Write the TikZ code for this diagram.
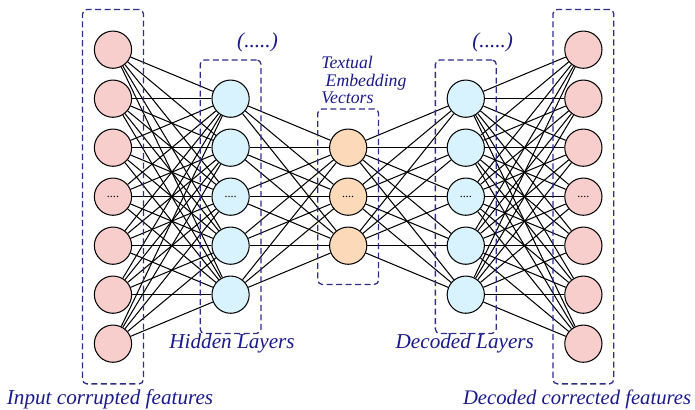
\documentclass[tikz,border=0pt]{standalone}
\usepackage{fontspec}
\setmainfont{Liberation Serif}
\usetikzlibrary{fit}

\definecolor{inpink}{HTML}{F8CECC}
\definecolor{hidblue}{HTML}{D8F3FD}
\definecolor{embpeach}{HTML}{FCD9B8}
\definecolor{boxnavy}{HTML}{2E2E8A}
\definecolor{labelblue}{HTML}{1A1A8C}

\begin{document}
\begin{tikzpicture}[
    neuron/.style={circle,draw=black,line width=0.6pt,minimum size=0.76cm,inner sep=0pt,font=\scriptsize},
    layerbox/.style={draw=boxnavy,line width=0.75pt,dash pattern=on 3.5pt off 2pt,
        rounded corners=2.5pt,inner xsep=0.23cm,inner ysep=0.4cm},
    lbl/.style={text=labelblue,font=\itshape\fontsize{12.3}{13}\selectfont},
    wire/.style={line width=0.6pt}
]
\useasboundingbox (-2.306,4.014) rectangle (11.878,-4.353);

% neurons, the middle one of each layer carries the dots
\foreach \i in {1,...,7}
    \node[neuron,fill=inpink] (in\i) at (0,4-\i) {\ifnum\i=4 ....\fi};
\foreach \i in {1,...,5}
    \node[neuron,fill=hidblue] (hid\i) at (2.4,3-\i) {\ifnum\i=3 ....\fi};
\foreach \i in {1,...,3}
    \node[neuron,fill=embpeach] (emb\i) at (4.8,2-\i) {\ifnum\i=2 ....\fi};
\foreach \i in {1,...,5}
    \node[neuron,fill=hidblue] (dec\i) at (7.2,3-\i) {\ifnum\i=3 ....\fi};
\foreach \i in {1,...,7}
    \node[neuron,fill=inpink] (out\i) at (9.6,4-\i) {\ifnum\i=4 ....\fi};

% fully connected wiring
\foreach \a in {1,...,7}
    \foreach \b in {1,...,5}
        \draw[wire] (in\a) -- (hid\b);
\foreach \a in {1,...,5}
    \foreach \b in {1,...,3}
        \draw[wire] (hid\a) -- (emb\b);
\foreach \a in {1,...,3}
    \foreach \b in {1,...,5}
        \draw[wire] (emb\a) -- (dec\b);
\foreach \a in {1,...,5}
    \foreach \b in {1,...,7}
        \draw[wire] (dec\a) -- (out\b);

% dashed layer frames
\node[layerbox,fit=(in1)(in7),inner ysep=0.43cm] (inbox) {};
\node[layerbox,fit=(hid1)(hid5)] (hidbox) {};
\node[layerbox,fit=(emb1)(emb3)] (embbox) {};
\node[layerbox,fit=(dec1)(dec5)] (decbox) {};
\node[layerbox,fit=(out1)(out7),inner ysep=0.43cm] (outbox) {};

% captions
\node[lbl] (hidmore) at (2.95,3.14) {(.....)};
\node[lbl] (decmore) at (7.75,3.14) {(.....)};
\node[lbl,align=left,font=\itshape\fontsize{10.3}{10}\selectfont] (embtxt) at (5.12,2.38)
    {Textual\\ \ Embedding\\Vectors};
\node[lbl] (hidtxt) at (2.43,-3.0) {Hidden Layers};
\node[lbl] (dectxt) at (7.18,-3.0) {Decoded Layers};
\node[lbl] (intxt) at (-0.06,-4.13) {Input corrupted features};
\node[lbl,anchor=east,inner sep=1pt,font=\itshape\fontsize{12}{13}\selectfont] (outtxt) at (11.84,-4.13)
    {Decoded corrected features};

\end{tikzpicture}
\end{document}
